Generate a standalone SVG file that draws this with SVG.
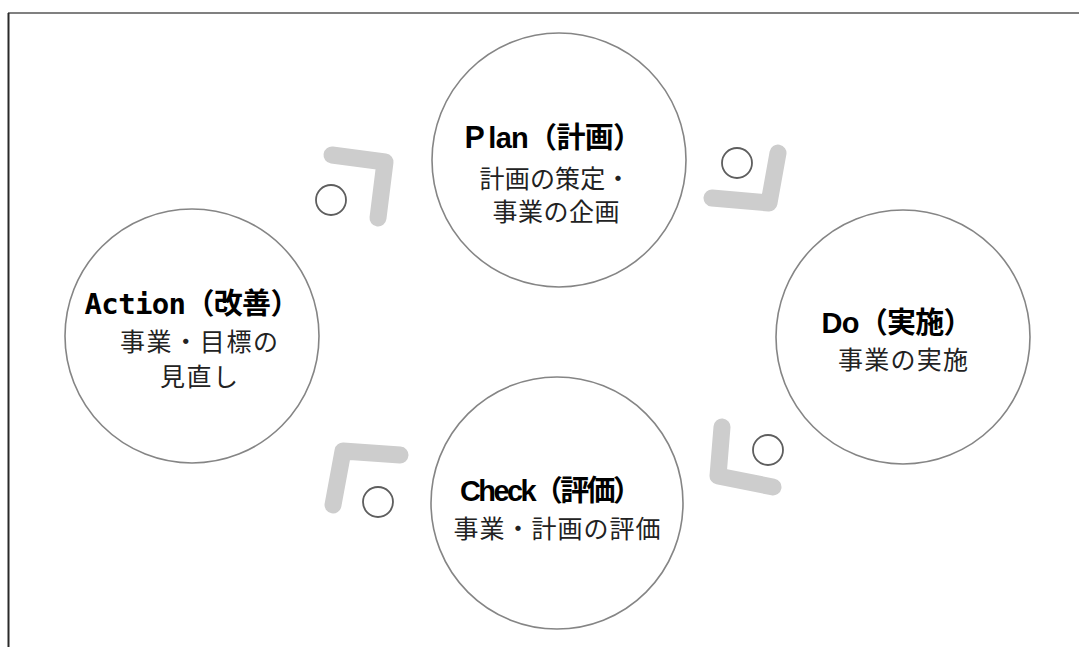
<svg xmlns="http://www.w3.org/2000/svg" width="1079" height="647" viewBox="0 0 1079 647">
<style>
.frameT{stroke:#808080;stroke-width:2;fill:none}
.frameL{stroke:#2a2a2a;stroke-width:2;fill:none}
.node{fill:#fff;stroke:#858585;stroke-width:1.6}
.title{font-family:"Liberation Sans","Noto Sans CJK JP",sans-serif;font-weight:bold;font-size:29px;fill:#000;text-anchor:middle}
.mono{font-family:"DejaVu Sans Mono","Noto Sans CJK JP",monospace;font-weight:bold}
.sub{font-family:"Noto Sans CJK JP",sans-serif;font-size:25px;fill:#222;text-anchor:middle}
.arm{fill:none;stroke:#cdcdcd;stroke-width:17;stroke-linecap:round;stroke-linejoin:round}
.dot{fill:#fff;stroke:#5e5e5e;stroke-width:1.8}
</style>
<rect width="1079" height="647" fill="#fff"/>
<line class="frameT" x1="8" y1="13" x2="1079" y2="13"/>
<line class="frameL" x1="8.5" y1="13" x2="8.5" y2="647"/>
<g id="connectors">
<polyline class="arm" points="332,155 385,162 378,218"/>
<circle class="dot" cx="331" cy="200" r="15"/>
<polyline class="arm" points="778,153 769,203 712,198"/>
<circle class="dot" cx="737" cy="163" r="15"/>
<polyline class="arm" points="400,455 343,451 333,505"/>
<circle class="dot" cx="378" cy="502" r="15"/>
<polyline class="arm" points="722,427 718,476 773,487"/>
<circle class="dot" cx="768" cy="450" r="15"/>
</g>
<g id="plan">
<circle class="node" cx="559" cy="160" r="127"/>
<text class="title" x="551" y="148" textLength="182">Ｐlan（計画）</text>
<text class="sub" x="555" y="188" textLength="151">計画の策定・</text>
<text class="sub" x="556" y="221" textLength="127">事業の企画</text>
</g>
<g id="do">
<circle class="node" cx="903" cy="337" r="127"/>
<text class="title" x="897" y="333" textLength="151">Do（実施）</text>
<text class="sub" x="903" y="369" textLength="130">事業の実施</text>
</g>
<g id="check">
<circle class="node" cx="557" cy="503" r="126"/>
<text class="title" x="551" y="501" textLength="182">Check（評価）</text>
<text class="sub" x="557" y="538" textLength="207">事業・計画の評価</text>
</g>
<g id="action">
<circle class="node" cx="192" cy="336" r="127"/>
<text class="title" x="192" y="314" textLength="215"><tspan class="mono">Action</tspan>（改善）</text>
<text class="sub" x="199" y="351" textLength="158">事業・目標の</text>
<text class="sub" x="199" y="386" textLength="78">見直し</text>
</g>
</svg>
